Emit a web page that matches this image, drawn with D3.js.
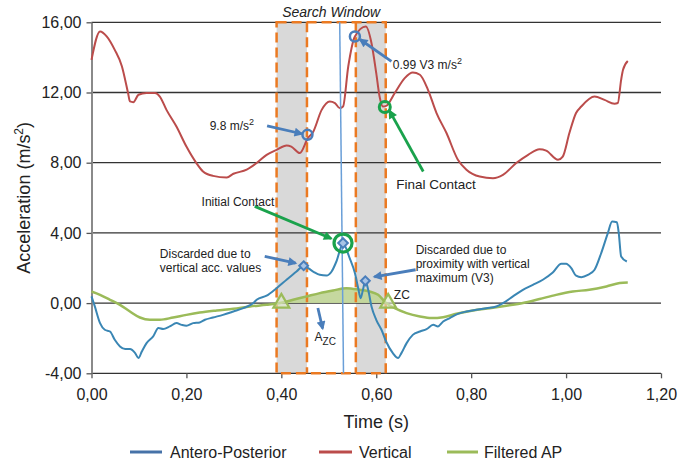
<!DOCTYPE html>
<html><head><meta charset="utf-8">
<script src="https://cdn.jsdelivr.net/npm/d3@7"></script>
<style>body{margin:0;background:#fff}svg{display:block;font-family:"Liberation Sans",Arial,sans-serif}</style>
</head><body><svg id="c" width="693" height="462"></svg>
<script>
// ---------- DATA ----------
const xTicks = [0, 0.2, 0.4, 0.6, 0.8, 1.0, 1.2];
const yTicks = [-4, 0, 4, 8, 12, 16];

const apT = [0,0.007,0.018,0.028,0.039,0.049,0.06,0.071,0.081,0.092,0.099,0.106,0.116,0.13,0.141,0.151,0.165,0.179,0.19,0.2,0.214,0.228,0.239,0.256,0.277,0.299,0.32,0.341,0.348,0.369,0.39,0.411,0.432,0.447,0.467,0.481,0.495,0.506,0.516,0.53,0.544,0.555,0.562,0.567,0.572,0.577,0.583,0.59,0.6,0.611,0.621,0.635,0.646,0.653,0.664,0.677,0.692,0.706,0.72,0.73,0.741,0.755,0.772,0.79,0.811,0.832,0.853,0.867,0.888,0.909,0.93,0.951,0.972,0.99,1.0,1.011,1.021,1.032,1.046,1.06,1.074,1.088,1.097,1.107,1.111,1.116,1.128];
const apV = [0.38,-0.19,-1.14,-1.52,-1.62,-2.09,-2.47,-2.62,-2.62,-2.85,-3.13,-2.76,-2.28,-1.9,-1.42,-1.48,-1.33,-1.14,-1.24,-1.29,-1.14,-1.1,-0.95,-0.82,-0.67,-0.48,-0.29,0.0,0.19,0.42,0.85,1.33,1.8,2.12,1.8,1.61,1.57,1.8,2.37,3.4,2.56,1.71,0.85,0.28,0.76,1.27,0.76,-0.19,-0.95,-1.52,-2.2,-2.85,-3.13,-2.85,-2.28,-1.81,-1.62,-1.48,-1.24,-1.33,-1.05,-0.85,-0.61,-0.48,-0.38,-0.29,-0.19,0,0.38,0.76,1.04,1.33,1.74,2.24,2.24,1.99,1.56,1.48,1.61,1.9,2.85,3.99,4.65,4.61,3.99,2.66,2.37];

const vertT = [0,0.018,0.032,0.049,0.064,0.077,0.081,0.088,0.099,0.116,0.134,0.144,0.158,0.179,0.2,0.221,0.235,0.256,0.285,0.299,0.327,0.348,0.369,0.39,0.411,0.421,0.439,0.456,0.467,0.485,0.502,0.513,0.523,0.53,0.541,0.555,0.578,0.59,0.6,0.607,0.614,0.621,0.639,0.66,0.677,0.692,0.709,0.727,0.748,0.772,0.79,0.818,0.846,0.867,0.895,0.92,0.944,0.958,0.983,0.993,1.007,1.021,1.032,1.06,1.081,1.102,1.109,1.116,1.12,1.13];
const vertV = [13.86,15.48,15.2,14.43,13.5,11.97,11.49,11.45,11.87,11.97,11.97,11.77,11.01,10.06,8.92,7.98,7.5,7.25,7.16,7.37,7.6,7.98,8.45,8.73,8.98,8.92,8.55,9.4,9.75,11.01,11.49,11.4,11.11,11.2,13.48,15.19,15.76,14.81,13.1,11.77,11.2,11.24,11.97,12.82,13.14,13.01,12.15,10.83,9.69,8.17,7.6,7.21,7.12,7.31,7.98,8.45,8.77,8.69,8.17,8.35,9.69,10.83,11.2,11.77,11.58,11.36,11.4,12.72,13.29,13.8];

const filtT = [0,0.018,0.039,0.06,0.081,0.102,0.123,0.144,0.172,0.2,0.228,0.264,0.299,0.334,0.369,0.397,0.425,0.453,0.481,0.509,0.537,0.565,0.586,0.604,0.621,0.639,0.664,0.692,0.716,0.741,0.769,0.804,0.839,0.874,0.909,0.944,0.979,1.014,1.049,1.085,1.113,1.13];
const filtV = [0.66,0.47,0.19,-0.1,-0.48,-0.82,-0.95,-0.95,-0.82,-0.67,-0.54,-0.42,-0.32,-0.19,-0.1,0,0.19,0.38,0.57,0.72,0.85,0.76,0.66,0.47,0,-0.29,-0.57,-0.76,-0.85,-0.8,-0.61,-0.42,-0.29,-0.15,0,0.23,0.47,0.66,0.76,0.95,1.14,1.17];

const icLineT = [0.523, 0.531];
const icLineV = [16, -4];

const windowRange = [0.39, 0.62];
const grayBands = [[0.39, 0.454], [0.557, 0.62]];
const zcRange = [0.397, 0.621];

const triangleT = [0.40, 0.625], triangleV = [0, 0];
const diamondT = [0.447, 0.577], diamondV = [2.13, 1.27];

const legendNames = ["Antero-Posterior", "Vertical", "Filtered AP"];
const colors = {ap:"#3a86b4", apLegend:"#4672a8", vert:"#bb4c4b", filt:"#9bbb59", fill:"#c2d69a",
  mark:"#4a7ebb", green:"#1aa24c", orange:"#eb7a22", gray:"#d9d9d9", light:"#6a9fd8"};

// ---------- SCALES ----------
const svg = d3.select("#c");
const x = d3.scaleLinear().domain([0, 1.2]).range([91.5, 661]);
const y = d3.scaleLinear().domain([-4, 16]).range([373.3, 22.3]);
const loc = d3.formatLocale({decimal:",", thousands:".", grouping:[3], currency:["",""], minus:"-"});
const fmt = loc.format(".2f");

// gray bands
svg.append("g").selectAll("rect").data(grayBands).join("rect")
  .attr("x", d => x(d[0])).attr("width", d => x(d[1]) - x(d[0]))
  .attr("y", y(16)).attr("height", y(-4) - y(16)).attr("fill", colors.gray);

// gridlines
svg.append("g").selectAll("line").data(yTicks).join("line")
  .attr("x1", x(0)).attr("x2", x(1.2)).attr("y1", d => y(d)).attr("y2", d => y(d))
  .attr("stroke", "#333").attr("stroke-width", 1.3);

// axes
const yAxis = svg.append("g").attr("transform", `translate(${x(0)},0)`)
  .call(d3.axisLeft(y).tickValues(yTicks).tickFormat(fmt).tickSize(5).tickSizeOuter(0).tickPadding(5));
yAxis.select(".domain").attr("stroke", "#8a8a8a").attr("stroke-width", 2);
yAxis.selectAll(".tick line").attr("stroke", "#555").attr("stroke-width", 1.3);
yAxis.selectAll("text").attr("font-size", 16).attr("fill", "#222").attr("font-family", "Liberation Sans, Arial, sans-serif");

const xAxis = svg.append("g").attr("transform", `translate(0,${y(-4)})`)
  .call(d3.axisBottom(x).tickValues(xTicks).tickFormat(fmt).tickSize(5).tickSizeOuter(0).tickPadding(10));
xAxis.select(".domain").remove();
xAxis.selectAll(".tick line").attr("stroke", "#555").attr("stroke-width", 1.3);
xAxis.selectAll("text").attr("font-size", 16).attr("fill", "#222").attr("font-family", "Liberation Sans, Arial, sans-serif");

// axis titles
const yt = svg.append("text").attr("transform", `translate(30,${(y(16)+y(-4))/2}) rotate(-90)`)
  .attr("text-anchor", "middle").attr("font-size", 18).attr("fill", "#222");
yt.append("tspan").text("Acceleration (m/s");
yt.append("tspan").attr("font-size", 12).attr("dy", -7).text("2");
yt.append("tspan").attr("dy", 7).text(")");
svg.append("text").attr("x", (x(0)+x(1.2))/2).attr("y", 428).attr("text-anchor", "middle")
  .attr("font-size", 18).attr("fill", "#222").text("Time (s)");

// filtered area between zero crossings
const fData = filtT.map((t, i) => ({t, v: filtV[i]}));
const areaData = fData.filter(d => d.t >= zcRange[0] && d.t <= zcRange[1]);
svg.append("path").datum(areaData)
  .attr("d", d3.area().x(d => x(d.t)).y0(y(0)).y1(d => y(d.v)).curve(d3.curveMonotoneX))
  .attr("fill", colors.fill).attr("opacity", 0.95);

// search window (orange dashed)
const dash = "10,5";
svg.append("rect").attr("x", x(windowRange[0])).attr("width", x(windowRange[1]) - x(windowRange[0]))
  .attr("y", y(16)).attr("height", y(-4) - y(16)).attr("fill", "none")
  .attr("stroke", colors.orange).attr("stroke-width", 2.5).attr("stroke-dasharray", dash);
svg.append("g").selectAll("line").data([grayBands[0][1], grayBands[1][0]]).join("line")
  .attr("x1", d => x(d)).attr("x2", d => x(d)).attr("y1", y(16)).attr("y2", y(-4))
  .attr("stroke", colors.orange).attr("stroke-width", 2.5).attr("stroke-dasharray", dash);
svg.append("text").attr("x", x((windowRange[0]+windowRange[1])/2)).attr("y", 17)
  .attr("text-anchor", "middle").attr("font-size", 14).attr("font-style", "italic").attr("fill", "#222")
  .text("Search Window");

// lines
const lineGen = d3.line().x(d => x(d.t)).y(d => y(d.v)).curve(d3.curveMonotoneX);
const vData = vertT.map((t, i) => ({t, v: vertV[i]}));
const aData = apT.map((t, i) => ({t, v: apV[i]}));
svg.append("path").datum(fData).attr("d", lineGen).attr("fill", "none").attr("stroke", colors.filt).attr("stroke-width", 2.5);
svg.append("path").datum(vData).attr("d", lineGen).attr("fill", "none").attr("stroke", colors.vert).attr("stroke-width", 2);
svg.append("path").datum(icLineT.map((t, i) => ({t, v: icLineV[i]})))
  .attr("d", d3.line().x(d => x(d.t)).y(d => y(d.v))).attr("stroke", colors.light).attr("stroke-width", 1.5);
svg.append("path").datum(aData).attr("d", lineGen).attr("fill", "none").attr("stroke", colors.ap).attr("stroke-width", 2);

// triangles
svg.append("g").selectAll("path").data(triangleT).join("path")
  .attr("d", d3.symbol(d3.symbolTriangle, 110))
  .attr("transform", (d, i) => `translate(${x(d)},${y(triangleV[i])})`)
  .attr("fill", "#dfe9c8").attr("fill-opacity", 0.6).attr("stroke", colors.filt).attr("stroke-width", 2.2);

// diamonds
svg.append("g").selectAll("path").data(diamondT).join("path")
  .attr("d", d3.symbol(d3.symbolDiamond2, 50))
  .attr("transform", (d, i) => `translate(${x(d)},${y(diamondV[i])})`)
  .attr("fill", "#a9c4e6").attr("stroke", colors.mark).attr("stroke-width", 2);

// circles
const circles = [
  {t:0.455, v:9.59, r:5, c:colors.mark, w:2.5},
  {t:0.555, v:15.19, r:5, c:colors.mark, w:2.5},
  {t:0.618, v:11.17, r:5.5, c:colors.green, w:3},
  {t:0.530, v:3.42, r:9, c:colors.green, w:3.2}
];
svg.append("g").selectAll("circle").data(circles).join("circle")
  .attr("cx", d => x(d.t)).attr("cy", d => y(d.v)).attr("r", d => d.r)
  .attr("fill", "none").attr("stroke", d => d.c).attr("stroke-width", d => d.w);
svg.append("path").attr("d", d3.symbol(d3.symbolDiamond2, 60))
  .attr("transform", `translate(${x(0.530)},${y(3.42)})`)
  .attr("fill", "#a9c4e6").attr("stroke", colors.mark).attr("stroke-width", 2);

// arrows
const defs = svg.append("defs");
[["ab", colors.mark], ["ag", colors.green]].forEach(([id, c]) => {
  defs.append("marker").attr("id", id).attr("viewBox", "0 0 10 10").attr("refX", 8).attr("refY", 5)
    .attr("markerWidth", 10).attr("markerHeight", 9).attr("markerUnits", "userSpaceOnUse").attr("orient", "auto")
    .append("path").attr("d", "M0,0L10,5L0,10z").attr("fill", c);
});
const arrows = [
  {t0:0.37, v0:10.1, t1:0.443, v1:9.65, m:"ab", c:colors.mark},
  {t0:0.632, v0:13.77, t1:0.566, v1:15.02, m:"ab", c:colors.mark},
  {t0:0.699, v0:7.5, t1:0.628, v1:10.95, m:"ag", c:colors.green},
  {t0:0.344, v0:5.51, t1:0.505, v1:3.68, m:"ag", c:colors.green},
  {t0:0.365, v0:2.66, t1:0.430, v1:2.28, m:"ab", c:colors.mark},
  {t0:0.683, v0:1.9, t1:0.596, v1:1.5, m:"ab", c:colors.mark},
  {t0:0.477, v0:-0.28, t1:0.487, v1:-1.45, m:"ab", c:colors.mark}
];
svg.append("g").selectAll("line").data(arrows).join("line")
  .attr("x1", d => x(d.t0)).attr("y1", d => y(d.v0)).attr("x2", d => x(d.t1)).attr("y2", d => y(d.v1))
  .attr("stroke", d => d.c).attr("stroke-width", 2.8).attr("marker-end", d => `url(#${d.m})`);

// annotation texts
const ann = svg.append("g").attr("font-size", 12).attr("fill", "#222");
function label(t, v, lines, sup, size) {
  const el = ann.append("text").attr("x", x(t)).attr("y", y(v));
  if (size) el.attr("font-size", size);
  lines.forEach((s, i) => el.append("tspan").attr("x", x(t)).attr("dy", i ? 14 : 0).text(s));
  if (sup) el.append("tspan").attr("font-size", 9).attr("dy", -5).text(sup);
  return el;
}
label(0.249, 9.87, ["9.8 m/s"], "2");
label(0.635, 13.35, ["0.99 V3 m/s"], "2");
label(0.642, 6.5, ["Final Contact"], null, 13.5);
label(0.232, 5.55, ["Initial Contact"]);
label(0.144, 2.58, ["Discarded due to", "vertical acc. values"]);
label(0.683, 2.81, ["Discarded due to", "proximity with vertical", "maximum (V3)"]);
label(0.637, 0.24, ["ZC"]);
const azc = ann.append("text").attr("x", x(0.47)).attr("y", y(-2.15)).text("A");
azc.append("tspan").attr("font-size", 10).attr("dy", 4).text("ZC");

// legend
const legend = [
  {name: legendNames[0], c: colors.apLegend, x0:130, x1:162, tx:170},
  {name: legendNames[1], c: colors.vert, x0:319, x1:352, tx:359},
  {name: legendNames[2], c: colors.filt, x0:447, x1:478, tx:484}
];
const lg = svg.append("g");
lg.selectAll("line").data(legend).join("line").attr("x1", d => d.x0).attr("x2", d => d.x1)
  .attr("y1", 452).attr("y2", 452).attr("stroke", d => d.c).attr("stroke-width", 3);
lg.selectAll("text").data(legend).join("text").attr("x", d => d.tx).attr("y", 457.5)
  .attr("font-size", 16).attr("fill", "#222").text(d => d.name);
</script></body></html>
